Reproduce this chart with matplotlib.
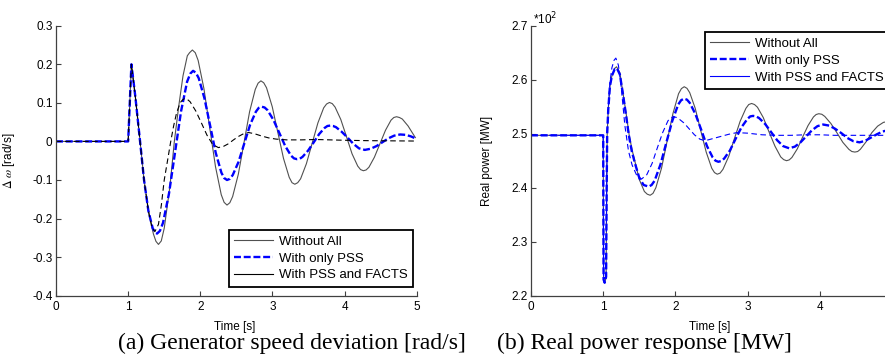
import matplotlib
matplotlib.use("Agg")
import matplotlib.pyplot as plt
from matplotlib.lines import Line2D

plt.rcParams['font.family'] = ['Liberation Sans', 'DejaVu Sans']
plt.rcParams['lines.scale_dashes'] = False

labels = ['Without All', 'With only PSS', 'With PSS and FACTS']

# (a) speed deviation [rad/s]
t_w0 = [0, 1.0, 1.045, 1.10, 1.165, 1.22, 1.29, 1.35, 1.385, 1.42, 1.459, 1.50, 1.58, 1.64,
        1.70, 1.76, 1.82, 1.851, 1.89, 1.93, 1.97, 2.05, 2.13, 2.21, 2.29, 2.33, 2.37, 2.409,
        2.448, 2.527, 2.605, 2.683, 2.762, 2.801, 2.84, 2.879, 2.918, 2.997, 3.075, 3.153,
        3.232, 3.271, 3.31, 3.35, 3.39, 3.47, 3.55, 3.63, 3.71, 3.75, 3.79, 3.829, 3.868,
        3.947, 4.025, 4.103, 4.182, 4.221, 4.26, 4.298, 4.337, 4.413, 4.49, 4.567, 4.643,
        4.682, 4.72, 4.76, 4.80, 4.88, 4.94, 4.98]
w0 = [0, 0, 0.200, 0.115, 0.0, -0.10, -0.19, -0.24, -0.259, -0.267, -0.258, -0.225, -0.115,
      0.0, 0.09, 0.17, 0.222, 0.230, 0.237, 0.230, 0.210, 0.137, 0.036, -0.065, -0.138, -0.158,
      -0.165, -0.159, -0.143, -0.085, -0.004, 0.077, 0.135, 0.151, 0.157, 0.152, 0.139, 0.090,
      0.023, -0.044, -0.093, -0.107, -0.111, -0.107, -0.097, -0.058, -0.005, 0.048, 0.087,
      0.097, 0.101, 0.098, 0.089, 0.057, 0.013, -0.032, -0.064, -0.073, -0.076, -0.074, -0.067,
      -0.041, -0.006, 0.029, 0.055, 0.062, 0.064, 0.062, 0.058, 0.040, 0.022, 0.010]

t_w1 = [0, 1.0, 1.045, 1.10, 1.165, 1.22, 1.28, 1.34, 1.37, 1.40, 1.44, 1.483, 1.567, 1.65,
        1.733, 1.817, 1.862, 1.90, 1.939, 1.978, 2.057, 2.135, 2.213, 2.292, 2.331, 2.37, 2.41,
        2.45, 2.53, 2.61, 2.69, 2.77, 2.81, 2.85, 2.891, 2.932, 3.013, 3.095, 3.177, 3.258,
        3.299, 3.34, 3.378, 3.417, 3.493, 3.57, 3.647, 3.723, 3.762, 3.80, 3.84, 3.88, 3.96,
        4.04, 4.12, 4.20, 4.28, 4.362, 4.443, 4.525, 4.607, 4.688, 4.77, 4.85, 4.92, 4.98]
w1 = [0, 0, 0.200, 0.115, 0.0, -0.10, -0.18, -0.225, -0.235, -0.239, -0.232, -0.211, -0.134,
      -0.028, 0.078, 0.155, 0.176, 0.183, 0.178, 0.164, 0.112, 0.042, -0.029, -0.081, -0.095,
      -0.100, -0.097, -0.087, -0.053, -0.005, 0.043, 0.077, 0.087, 0.090, 0.088, 0.081, 0.056,
      0.022, -0.012, -0.037, -0.044, -0.046, -0.045, -0.040, -0.024, -0.003, 0.019, 0.035,
      0.040, 0.041, 0.040, 0.037, 0.025, 0.010, -0.006, -0.018, -0.022, -0.019, -0.012, -0.002,
      0.008, 0.015, 0.018, 0.017, 0.013, 0.008]

t_w2 = [0, 1.0, 1.045, 1.10, 1.165, 1.22, 1.28, 1.33, 1.37, 1.42, 1.46, 1.50, 1.55, 1.59, 1.63,
        1.67, 1.72, 1.75, 1.78, 1.82, 1.858, 1.937, 2.015, 2.093, 2.172, 2.25, 2.32, 2.39, 2.46,
        2.53, 2.60, 2.67, 2.75, 2.85, 2.95, 3.05, 3.2, 3.4, 3.6, 3.8, 4.0, 4.3, 4.98]
w2 = [0, 0, 0.200, 0.115, 0.0, -0.10, -0.18, -0.222, -0.234, -0.215, -0.165, -0.10, -0.045, 0.0,
      0.04, 0.073, 0.10, 0.107, 0.111, 0.109, 0.103, 0.079, 0.048, 0.016, -0.008, -0.016,
      -0.013, -0.006, 0.004, 0.013, 0.020, 0.023, 0.020, 0.014, 0.009, 0.006, 0.004, 0.004,
      0.005, 0.004, 0.003, 0.002, 0.001]

# (b) real power [*10^2 MW]
t_p0 = [0, 1.0, 1.005, 1.02, 1.04, 1.048, 1.055, 1.07, 1.093, 1.12, 1.16, 1.185, 1.23, 1.278,
        1.32, 1.36, 1.40, 1.44, 1.50, 1.57, 1.61, 1.65, 1.689, 1.729, 1.807, 1.886, 1.965,
        2.043, 2.083, 2.122, 2.16, 2.198, 2.274, 2.35, 2.426, 2.503, 2.541, 2.579, 2.618,
        2.658, 2.738, 2.817, 2.896, 2.976, 3.015, 3.055, 3.095, 3.136, 3.216, 3.297, 3.378,
        3.458, 3.499, 3.539, 3.576, 3.613, 3.688, 3.762, 3.836, 3.911, 3.948, 3.985, 4.027,
        4.068, 4.152, 4.235, 4.318, 4.402, 4.443, 4.485, 4.523, 4.56, 4.64, 4.72, 4.80, 4.88,
        4.96, 5.0]
p0 = [2.497, 2.497, 2.23, 2.224, 2.235, 2.40, 2.50, 2.545, 2.588, 2.607, 2.621, 2.624, 2.613,
      2.572, 2.535, 2.497, 2.47, 2.448, 2.415, 2.393, 2.388, 2.386, 2.3895, 2.400, 2.436, 2.487,
      2.537, 2.574, 2.5835, 2.587, 2.584, 2.576, 2.547, 2.506, 2.466, 2.436, 2.428, 2.425,
      2.427, 2.434, 2.458, 2.491, 2.523, 2.547, 2.554, 2.556, 2.554, 2.549, 2.530, 2.503, 2.477,
      2.457, 2.452, 2.450, 2.4515, 2.456, 2.472, 2.494, 2.515, 2.531, 2.5355, 2.537, 2.536,
      2.532, 2.519, 2.502, 2.484, 2.471, 2.467, 2.466, 2.467, 2.471, 2.485, 2.502, 2.514, 2.521,
      2.523, 2.522]

t_p1 = [0, 1.0, 1.005, 1.02, 1.04, 1.048, 1.055, 1.07, 1.093, 1.12, 1.16, 1.19, 1.23, 1.275,
        1.315, 1.355, 1.395, 1.44, 1.50, 1.56, 1.63, 1.67, 1.712, 1.793, 1.875, 1.957, 2.038,
        2.079, 2.12, 2.16, 2.199, 2.278, 2.358, 2.437, 2.516, 2.555, 2.595, 2.635, 2.675, 2.755,
        2.835, 2.915, 2.995, 3.035, 3.075, 3.117, 3.158, 3.242, 3.325, 3.408, 3.492, 3.575,
        3.653, 3.732, 3.81, 3.888, 3.967, 4.045, 4.129, 4.213, 4.298, 4.382, 4.466, 4.55, 4.63,
        4.71, 4.79, 4.87, 4.95, 5.0]
p1 = [2.497, 2.497, 2.23, 2.224, 2.235, 2.40, 2.50, 2.545, 2.588, 2.607, 2.620, 2.621, 2.610,
      2.572, 2.535, 2.497, 2.468, 2.445, 2.418, 2.405, 2.402, 2.405, 2.413, 2.443, 2.484, 2.524,
      2.554, 2.562, 2.565, 2.563, 2.557, 2.536, 2.507, 2.477, 2.456, 2.450, 2.448, 2.4495,
      2.454, 2.469, 2.491, 2.512, 2.527, 2.532, 2.533, 2.532, 2.529, 2.518, 2.503, 2.488, 2.477,
      2.473, 2.476, 2.484, 2.495, 2.506, 2.514, 2.517, 2.515, 2.509, 2.501, 2.492, 2.486, 2.484,
      2.487, 2.493, 2.499, 2.504, 2.507, 2.508]

t_p2 = [0, 1.0, 1.005, 1.02, 1.04, 1.048, 1.055, 1.07, 1.093, 1.12, 1.15, 1.175, 1.21, 1.25,
        1.30, 1.35, 1.40, 1.46, 1.53, 1.603, 1.677, 1.75, 1.823, 1.897, 1.933, 1.97, 2.007,
        2.043, 2.117, 2.19, 2.263, 2.337, 2.41, 2.52, 2.63, 2.74, 2.85, 3.0, 3.2, 3.4, 3.6, 3.8,
        4.0, 4.2, 4.5, 5.0]
p2 = [2.497, 2.497, 2.23, 2.224, 2.235, 2.40, 2.50, 2.548, 2.595, 2.622, 2.636, 2.640, 2.627,
      2.585, 2.515, 2.468, 2.442, 2.424, 2.416, 2.424, 2.445, 2.474, 2.502, 2.524, 2.529, 2.531,
      2.5305, 2.528, 2.520, 2.509, 2.498, 2.490, 2.487, 2.491, 2.495, 2.499, 2.502, 2.501, 2.498,
      2.497, 2.497, 2.498, 2.498, 2.497, 2.497, 2.497]

w_ticks = [-0.4, -0.3, -0.2, -0.1, 0, 0.1, 0.2, 0.3]
w_tick_labels = ['-0.4', '-0.3', '-0.2', '-0.1', '0', '0.1', '0.2', '0.3']
p_ticks = [2.2, 2.3, 2.4, 2.5, 2.6, 2.7]

gray = '#505050'
blue = '#0000ff'

fig = plt.figure(figsize=(8.85, 3.6), dpi=100)
ax1 = fig.add_axes([0.0633, 0.1786, 0.4076, 0.75])
ax2 = fig.add_axes([0.6, 0.1786, 0.408, 0.75])

for ax in (ax1, ax2):
    for s in ('top', 'right'):
        ax.spines[s].set_visible(False)
    for s in ('left', 'bottom'):
        ax.spines[s].set_color('#404040')
        ax.spines[s].set_linewidth(0.9)
    ax.tick_params(direction='in', length=3.5, width=0.8, color='#404040', labelsize=8.5)
    ax.tick_params(axis='x', pad=4)
    ax.tick_params(axis='y', pad=2.5)
    ax.set_xlim(0, 5)
    ax.set_xlabel('Time [s]', fontsize=8.5)
    ax.xaxis.set_label_coords(0.496, -0.095)

ax1.set_xticks([0, 1, 2, 3, 4, 5])
ax1.plot(t_w0, w0, color=gray, lw=0.8)
ax1.plot(t_w1, w1, color=blue, lw=1.7, dashes=(5, 2))
ax1.plot(t_w2, w2, color='black', lw=0.8, dashes=(4, 2.5))
ax1.set_ylim(-0.4, 0.3)
ax1.set_yticks(w_ticks)
ax1.set_yticklabels(w_tick_labels)
ax1.set_ylabel(r'$\Delta\ \omega$ [rad/s]', fontsize=8.5, math_fontfamily='stix')
ax1.yaxis.set_label_coords(-0.108, 0.5)

ax2.set_xticks([0, 1, 2, 3, 4])
ax2.plot(t_p0, p0, color=gray, lw=0.8)
ax2.plot(t_p1, p1, color=blue, lw=1.7, dashes=(5, 2))
ax2.plot(t_p2, p2, color=blue, lw=0.8, dashes=(4, 2.5))
ax2.set_ylim(2.2, 2.7)
ax2.set_yticks(p_ticks)
ax2.set_yticklabels([f'{v:.1f}' for v in p_ticks])
ax2.set_ylabel('Real power [MW]', fontsize=8.5)
ax2.yaxis.set_label_coords(-0.105, 0.5)
fig.text(533 / 885, 1 - 24 / 360, r'*10$^2$', fontsize=8.5, va='baseline')

h1 = [Line2D([], [], color=gray, lw=0.8),
      Line2D([], [], color=blue, lw=1.7, dashes=(5, 2)),
      Line2D([], [], color='black', lw=0.8)]
h2 = [Line2D([], [], color=gray, lw=0.8),
      Line2D([], [], color=blue, lw=1.7, dashes=(5, 2)),
      Line2D([], [], color=blue, lw=0.8)]
leg_kw = dict(fontsize=9.5, fancybox=False, framealpha=1, edgecolor='black',
              handlelength=2.9, labelspacing=0.35, borderpad=0.4, handletextpad=0.5,
              borderaxespad=0)
l1 = ax1.legend(h1, labels, loc='lower right', bbox_to_anchor=(413.3 / 885, 1 - 286.7 / 360),
                bbox_transform=fig.transFigure, **leg_kw)
l2 = ax2.legend(h2, labels, loc='upper left', bbox_to_anchor=(705 / 885, 1 - 32.3 / 360),
                bbox_transform=fig.transFigure, **leg_kw)
for lg in (l1, l2):
    lg.get_frame().set_linewidth(1.3)

fig.text(118 / 885, 0.047, '(a) Generator speed deviation [rad/s]', family='Liberation Serif',
         fontsize=17, va='center')
fig.text(497 / 885, 0.047, '(b) Real power response [MW]', family='Liberation Serif',
         fontsize=17, va='center')

fig.savefig('out.png', dpi=100)
